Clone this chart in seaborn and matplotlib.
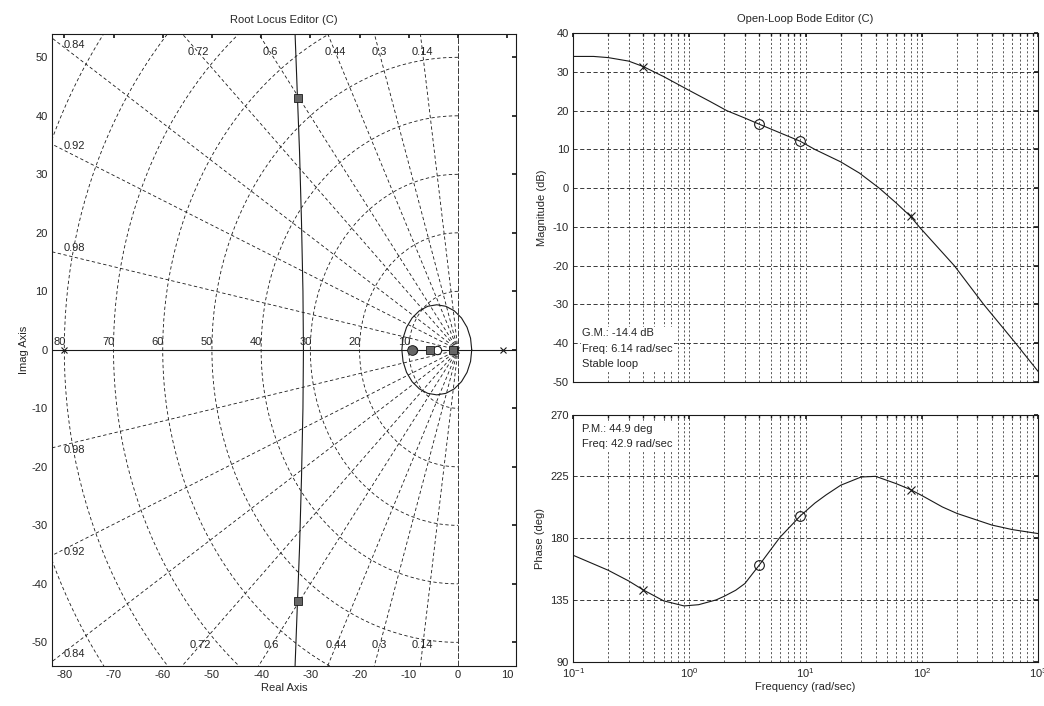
import numpy as np
import pandas as pd
import matplotlib
matplotlib.use("Agg")
import matplotlib.pyplot as plt
import seaborn as sns

# s-grid: damping ratios and natural frequencies
zeta_vals = [0.14, 0.3, 0.44, 0.6, 0.72, 0.84, 0.92, 0.98]
wn_vals = [10, 20, 30, 40, 50, 60, 70, 80, 90]
wn_labels = [10, 20, 30, 40, 50, 60, 70, 80]

# root locus branches
branch_re = [-33.1, -32.7, -32.2, -31.8, -31.5, -31.4, -31.5, -31.8, -32.2, -32.7, -33.1]
branch_im = [54, 45, 34, 22, 10, 0, -10, -22, -34, -45, -54]
loop_re = [2.80, 2.56, 1.85, 0.72, -0.75, -2.46, -4.30, -6.14, -7.85, -9.32, -10.45, -11.16, -11.40]
loop_im = [0.00, 1.99, 3.85, 5.44, 6.67, 7.44, 7.70, 7.44, 6.67, 5.44, 3.85, 1.99, 0.00]

ol_poles = [-80, 9.2, -0.4]
ol_zeros = [-4.3, -9.1]
cl_poles_re = [-32.5, -32.5, -5.7, -1.0]
cl_poles_im = [43, -43, 0, 0]
cl_pole_round = [-9.3]

# open-loop bode
mag_w = [0.1, 0.15, 0.2, 0.3, 0.4, 0.6, 1.0, 1.5, 2.1, 3.0, 4.0, 6.0, 9.0, 12, 20, 29, 43, 60, 80, 95,
         190, 340, 640, 1000]
mag_db = [34.0, 34.0, 33.7, 32.8, 31.4, 28.8, 25.2, 22.4, 20.0, 18.1, 16.5, 14.3, 12.1, 10.0, 6.8, 3.9,
          0.0, -3.8, -7.3, -10.0, -20.0, -30.0, -40.0, -47.3]
ph_w = [0.1, 0.2, 0.3, 0.4, 0.6, 0.9, 1.2, 1.7, 2.0, 2.5, 3.0, 4.0, 6.0, 9.0, 12, 15, 20, 30, 40, 60,
        80, 100, 150, 200, 400, 600, 1000]
ph_deg = [167.5, 156.6, 148.8, 142.3, 134.3, 130.6, 131.5, 135, 137.7, 142, 146.9, 160.5, 180.5, 196.2,
          205.5, 211.5, 218.5, 224.5, 225, 219.7, 215.3, 211, 202.7, 198, 189.5, 186.2, 183.3]

comp_pole_w = [0.4, 80]
comp_pole_db = [31.4, -7.3]
comp_pole_deg = [142.3, 215.3]
comp_zero_w = [4.0, 9.0]
comp_zero_db = [16.5, 12.1]
comp_zero_deg = [160.5, 196.2]

sns.set_theme(style="white")
plt.rcParams["font.family"] = ["Liberation Sans", "DejaVu Sans"]
plt.rcParams["font.size"] = 8
plt.rcParams["axes.unicode_minus"] = False

fig = plt.figure(figsize=(10.44, 7.06), dpi=100)
ax_rl = fig.add_axes([0.0498, 0.057, 0.444, 0.895])
ax_mag = fig.add_axes([0.549, 0.459, 0.4454, 0.494])
ax_ph = fig.add_axes([0.549, 0.0628, 0.4454, 0.350])

grid_kw = dict(color="k", lw=0.6, ls=(0, (4, 3)))

# ---- root locus editor ----
for z in zeta_vals:
    th = np.arccos(z)
    r = 200
    ax_rl.plot([0, -r * np.cos(th)], [0, r * np.sin(th)], **grid_kw)
    ax_rl.plot([0, -r * np.cos(th)], [0, -r * np.sin(th)], **grid_kw)
ang = np.linspace(np.pi / 2, 3 * np.pi / 2, 200)
for wn in wn_vals:
    ax_rl.plot(wn * np.cos(ang), wn * np.sin(ang), **grid_kw)
ax_rl.axvline(0, color="k", lw=0.6, ls=(0, (7, 2)))

for z in zeta_vals:
    t = np.sqrt(1 - z ** 2) / z
    if z < 0.8:
        ax_rl.text(-50.9 / t, 50.9, f"{z:g}", ha="center", va="center", fontsize=8)
        ax_rl.text(-50.5 / t, -50.5, f"{z:g}", ha="center", va="center", fontsize=8)
    else:
        ax_rl.text(-78.0, 78.5 * t + 1.4, f"{z:g}", ha="center", va="center", fontsize=8)
        ax_rl.text(-78.0, -78.5 * t - 1.2, f"{z:g}", ha="center", va="center", fontsize=8)
for wn in wn_labels:
    ax_rl.text(-wn - 1, 0.4, str(wn), ha="center", va="bottom", fontsize=8)

# locus branches
ax_rl.axhline(0, color="k", lw=0.8)
locus = pd.DataFrame({"re": branch_re, "im": branch_im})
sns.lineplot(data=locus, x="re", y="im", sort=False, estimator=None, ax=ax_rl, color="k", lw=0.8)
loop = pd.DataFrame({"re": loop_re + loop_re[::-1], "im": loop_im + [-v for v in loop_im[::-1]]})
sns.lineplot(data=loop, x="re", y="im", sort=False, estimator=None, ax=ax_rl, color="k", lw=0.8)

ax_rl.plot(ol_poles, [0] * len(ol_poles), "x", color="k", ms=5, mew=0.8)
ax_rl.plot(ol_zeros, [0] * len(ol_zeros), "o", mfc="white", mec="k", ms=6, mew=0.8)
ax_rl.plot(cl_poles_re, cl_poles_im, "s", mfc="0.4", mec="k", ms=6, mew=0.6)
ax_rl.plot(cl_pole_round, [0], "o", mfc="0.4", mec="k", ms=7, mew=0.6)

ax_rl.set_xlim(-82.5, 11.7)
ax_rl.set_ylim(-54, 54)
ax_rl.set_xticks(np.arange(-80, 11, 10))
ax_rl.set_yticks(np.arange(-50, 51, 10))
ax_rl.set_xlabel("Real Axis", fontsize=8, labelpad=2)
ax_rl.set_ylabel("Imag Axis", fontsize=8, labelpad=2)
ax_rl.set_title("Root Locus Editor (C)", fontsize=8, pad=8)

# ---- bode editor ----
for ax in (ax_mag, ax_ph):
    ax.set_xscale("log")
    ax.set_xlim(0.1, 1000)
    ax.grid(True, which="both", axis="x", color="k", lw=0.5, ls=(0, (3, 3)))
    ax.grid(True, which="major", axis="y", color="k", lw=0.6, ls=(0, (5, 3)))

sns.lineplot(x=mag_w, y=mag_db, ax=ax_mag, color="k", lw=0.8, estimator=None)
ax_mag.plot(comp_pole_w, comp_pole_db, "x", color="k", ms=6, mew=0.8)
ax_mag.plot(comp_zero_w, comp_zero_db, "o", mfc="none", mec="k", ms=7, mew=0.8)
ax_mag.set_ylim(-50, 40)
ax_mag.set_yticks(np.arange(-50, 41, 10))
ax_mag.set_xticklabels([])
ax_mag.set_xticklabels([], minor=True)
ax_mag.set_ylabel("Magnitude (dB)", fontsize=8, labelpad=4)
ax_mag.set_title("Open-Loop Bode Editor (C)", fontsize=8, pad=8)
ax_mag.text(0.12, -36.2, "G.M.: -14.4 dB\nFreq: 6.14 rad/sec\nStable loop", fontsize=8,
            va="top", ha="left", linespacing=1.65, zorder=5,
            bbox=dict(facecolor="white", edgecolor="none", pad=1))

sns.lineplot(x=ph_w, y=ph_deg, ax=ax_ph, color="k", lw=0.8, estimator=None)
ax_ph.plot(comp_pole_w, comp_pole_deg, "x", color="k", ms=6, mew=0.8)
ax_ph.plot(comp_zero_w, comp_zero_deg, "o", mfc="none", mec="k", ms=7, mew=0.8)
ax_ph.set_ylim(90, 270)
ax_ph.set_yticks([90, 135, 180, 225, 270])
ax_ph.set_xlabel("Frequency (rad/sec)", fontsize=8, labelpad=2)
ax_ph.set_ylabel("Phase (deg)", fontsize=8, labelpad=4)
ax_ph.text(0.12, 263, "P.M.: 44.9 deg\nFreq: 42.9 rad/sec", fontsize=8, va="top", ha="left",
           linespacing=1.6, zorder=5, bbox=dict(facecolor="white", edgecolor="none", pad=1))

for ax in (ax_rl, ax_mag, ax_ph):
    ax.tick_params(which="both", direction="in", top=True, right=True, labelsize=8,
                   length=3, color="k", pad=3)
    ax.tick_params(which="minor", length=2)
    for s in ax.spines.values():
        s.set_color("k")
        s.set_linewidth(0.8)

fig.savefig("out.png", dpi=100)
